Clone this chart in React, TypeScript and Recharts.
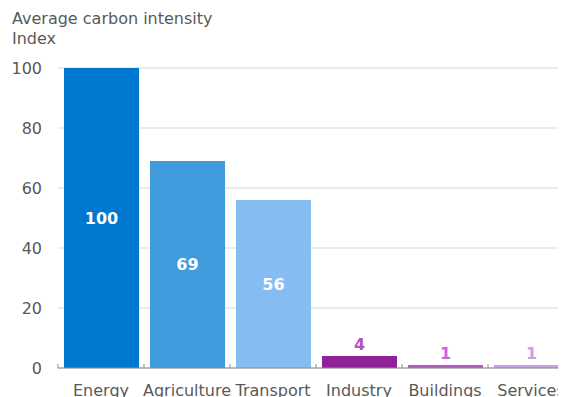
import React from 'react';
import { BarChart, Bar, XAxis, YAxis, CartesianGrid, Cell, LabelList } from 'recharts';

const sectors = ['Energy', 'Agriculture', 'Transport', 'Industry', 'Buildings', 'Services'];
const intensity = [100, 69, 56, 4, 1, 1];
const barColors = ['#0078d0', '#409cdc', '#85bdf2', '#8f2299', '#b05cc0', '#c8a0e8'];
const smallLabelColors = ['#ffffff', '#ffffff', '#ffffff', '#b055c0', '#d060e0', '#c8a0e8'];
const yTicks = [0, 20, 40, 60, 80, 100];

const data = sectors.map((sector, i) => ({ sector, value: intensity[i] }));

const FONT = '"DejaVu Sans", Verdana, sans-serif';
const GREY = '#595959';

// category label centred under the bar, small tick mark on the left band edge
const SectorTick = ({ x, y, payload }: any) => {
  const half = payload?.offset ?? 43;
  return (
    <g>
      <line x1={x - half} x2={x - half} y1={y - 4} y2={y} stroke="#8c8c8c" strokeWidth={1} />
      <text x={x} y={y + 17} dy="0.71em" textAnchor="middle" fill={GREY} fontSize={16} fontFamily={FONT}>
        {payload.value}
      </text>
    </g>
  );
};

// big values sit inside the bar, small ones float above it
const ValueLabel = ({ x, y, width, height, value, index }: any) => {
  const cx = x + width / 2;
  if (value >= 10) {
    return (
      <text x={cx} y={y + height / 2} dy="0.35em" textAnchor="middle" fill="#ffffff"
        fontSize={16} fontWeight="bold" fontFamily={FONT}>
        {value}
      </text>
    );
  }
  return (
    <text x={cx} y={y - 6} textAnchor="middle" fill={smallLabelColors[index]}
      fontSize={16} fontWeight="bold" fontFamily={FONT}>
      {value}
    </text>
  );
};

export default function App() {
  return (
    <div style={{ position: 'relative', width: 558, height: 389, overflow: 'hidden', fontFamily: FONT }}>
      <div style={{ position: 'absolute', left: 4, top: 1, fontSize: 16, lineHeight: '20px', color: GREY }}>
        <div>Average carbon intensity</div>
        <div>Index</div>
      </div>
      <BarChart width={566} height={400} data={data} margin={{ top: 60, right: 0, left: 0, bottom: 10 }}>
        <CartesianGrid vertical={false} stroke="#d9d9d9" />
        <XAxis
          dataKey="sector"
          height={30}
          axisLine={{ stroke: '#8c8c8c' }}
          tickLine={false}
          tickSize={0}
          tickMargin={0}
          interval={0}
          tick={<SectorTick />}
        />
        <YAxis
          width={50}
          domain={[0, 100]}
          ticks={yTicks}
          axisLine={false}
          tickLine={false}
          tickMargin={10}
          tick={{ fill: GREY, fontSize: 16, fontFamily: FONT }}
        />
        <Bar dataKey="value" barSize={75} isAnimationActive={false}>
          {data.map((d, i) => (
            <Cell key={d.sector} fill={barColors[i]} />
          ))}
          <LabelList dataKey="value" content={<ValueLabel />} />
        </Bar>
      </BarChart>
    </div>
  );
}
